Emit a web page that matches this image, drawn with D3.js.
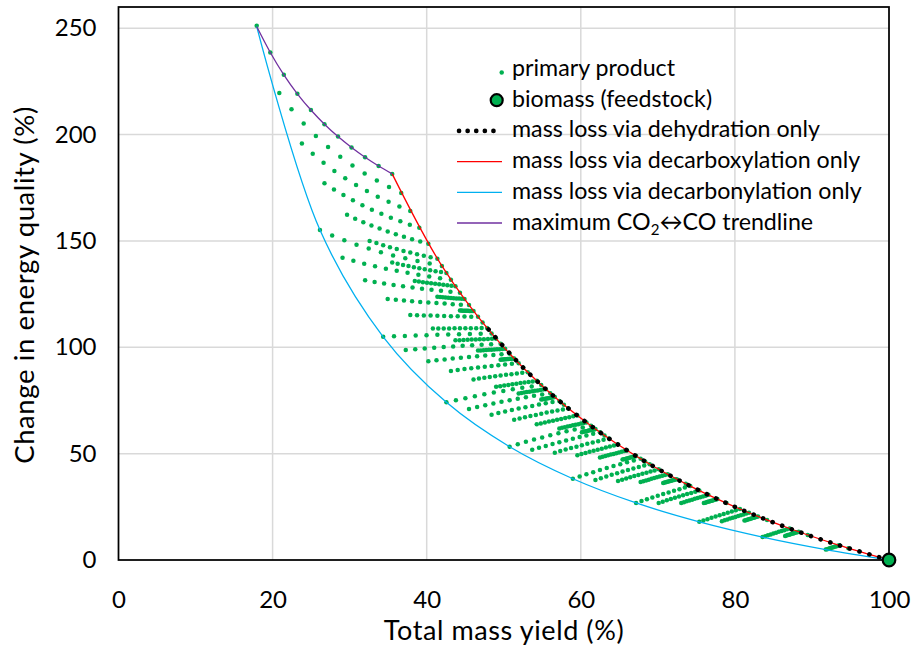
<!DOCTYPE html>
<html><head><meta charset="utf-8">
<script src="https://cdn.jsdelivr.net/npm/d3@7"></script>
<style>
body{margin:0;background:#fff;}
svg text{font-family:Lato,"Open Sans","DejaVu Sans",sans-serif;fill:#000;}
</style></head><body>
<svg id="chart" width="915" height="649"></svg>
<script>
// ---------- data ----------
const xTicks = [0, 20, 40, 60, 80, 100];
const yTicks = [0, 50, 100, 150, 200, 250];

// Simulated primary products: fraction of feedstock oxygen removed as water,
// fraction removed as CO2 + CO, and the CO2 share of that carbon-oxide part
const waterRemoved = [0, 0.1, 0.2, 0.3, 0.4, 0.5, 0.6, 0.7, 0.8, 0.9, 1.0];
const carbonOxideRemoved = [0, 0.1, 0.2, 0.3, 0.4, 0.5, 0.6, 0.7, 0.8, 0.9, 1.0];
const co2Share = [0, 0.1, 0.2, 0.3, 0.4, 0.5, 0.6, 0.7, 0.8, 0.9, 1.0];
// % of feedstock mass lost when all its oxygen leaves by one route (end points of the three lines)
const massLossAllO = {water: 52.75, co2: 64.48, co: 82.06};
// % of feedstock energy lost when all oxygen leaves as CO
const energyLossAllOasCO = 37.0;

// line series: [mass yield %, change in energy quality %]
const dehydrationLine = [[100,0],[94.73,5.57],[89.45,11.79],[84.18,18.80],[78.90,26.74],[73.63,35.82],[68.35,46.31],[63.08,58.54],[57.80,73.01],[52.53,90.39],[47.25,111.64]];
const decarboxylationLine = [[100,0],[93.55,6.89],[87.10,14.81],[80.66,23.98],[74.21,34.76],[67.76,47.58],[61.31,63.10],[54.86,82.27],[48.42,106.54],[41.97,138.28],[35.52,181.53]];
const decarbonylationLine = [[100,0],[91.79,4.91],[83.59,10.78],[75.38,17.93],[67.18,26.83],[58.97,38.21],[50.76,53.26],[42.56,74.12],[34.35,104.94],[26.15,155.11],[17.94,250.8]];
const maxTrendline = [[17.94,250.8],[19.70,238.61],[21.46,228.11],[23.21,219.20],[24.97,211.55],[26.73,204.90],[28.49,199.07],[30.25,193.92],[32.00,189.34],[33.76,185.23],[35.52,181.53]];
const biomass = [[100, 0]];

const legendLabels = ["primary product", "biomass (feedstock)", "mass loss via dehydration only",
  "mass loss via decarboxylation only", "mass loss via decarbonylation only", "maximum CO2\u2194CO trendline"];

// ---------- primary products (mass yield, energy quality) from their composition ----------
const products = [];
waterRemoved.forEach(w => carbonOxideRemoved.forEach(r => {
  if (w + r > 1.0001 || (w === 0 && r === 0)) return;
  (r === 0 ? [0] : co2Share).forEach(sd => {
    const d = r * sd, c = r * (1 - sd);
    const massYield = 100 - (w * massLossAllO.water + d * massLossAllO.co2 + c * massLossAllO.co);
    const energy = 100 - c * energyLossAllOasCO;
    products.push([massYield, 100 * energy / massYield - 100]);
  });
}));

// ---------- chart ----------
const GREEN = "#00B050", RED = "#FF0000", BLUE = "#00B0F0", PURPLE = "#7030A0";
const svg = d3.select("#chart");
const x = d3.scaleLinear().domain([0, 100]).range([118.5, 889]);
const y = d3.scaleLinear().domain([0, 260]).range([560, 7]);

// gridlines
svg.append("g").selectAll("line").data(xTicks.filter(d => d > 0 && d < 100)).join("line")
  .attr("x1", d => x(d)).attr("x2", d => x(d)).attr("y1", y(0)).attr("y2", y(260))
  .attr("stroke", "#d9d9d9").attr("stroke-width", 1.5);
svg.append("g").selectAll("line").data(yTicks.filter(d => d > 0)).join("line")
  .attr("y1", d => y(d)).attr("y2", d => y(d)).attr("x1", x(0)).attr("x2", x(100))
  .attr("stroke", "#d9d9d9").attr("stroke-width", 1.5);

// axes (labels)
const fontTick = 24;
const gx = svg.append("g").attr("transform", `translate(0,${y(0)})`)
  .call(d3.axisBottom(x).tickValues(xTicks).tickSize(0).tickPadding(31));
const gy = svg.append("g").attr("transform", `translate(${x(0)},0)`)
  .call(d3.axisLeft(y).tickValues(yTicks).tickSize(0).tickPadding(22));
[gx, gy].forEach(g => {
  g.select(".domain").remove();
  g.attr("font-family", null).attr("font-size", null);
  g.selectAll("text").style("font-size", fontTick + "px").attr("fill", "#000");
});

// primary products
svg.append("g").selectAll("circle").data(products).join("circle")
  .attr("cx", d => x(d[0])).attr("cy", d => y(d[1])).attr("r", 2.25).attr("fill", GREEN);

const curve = d3.curveCatmullRom.alpha(0.5);
const line = d3.line().x(d => x(d[0])).y(d => y(d[1])).curve(curve);
svg.append("path").datum(decarboxylationLine).attr("d", line).attr("fill", "none").attr("stroke", RED).attr("stroke-width", 1.3);
svg.append("path").datum(decarbonylationLine).attr("d", line).attr("fill", "none").attr("stroke", BLUE).attr("stroke-width", 1.3);
svg.append("path").datum(maxTrendline).attr("d", line).attr("fill", "none").attr("stroke", PURPLE).attr("stroke-width", 1.3);
svg.append("path").datum(dehydrationLine).attr("d", line).attr("fill", "none").attr("stroke", "#000")
  .attr("stroke-width", 4.6).attr("stroke-linecap", "round").attr("stroke-dasharray", "0.1,10.1");

// frame
svg.append("rect").attr("x", x(0)).attr("y", y(260)).attr("width", x(100) - x(0)).attr("height", y(0) - y(260))
  .attr("fill", "none").attr("stroke", "#000").attr("stroke-width", 1.75);

// biomass
svg.append("g").selectAll("circle").data(biomass).join("circle")
  .attr("cx", d => x(d[0])).attr("cy", d => y(d[1])).attr("r", 6.3)
  .attr("fill", GREEN).attr("stroke", "#000").attr("stroke-width", 2.2);

// axis titles
svg.append("text").attr("x", 504).attr("y", 640).attr("text-anchor", "middle")
  .style("font-size", "27px").style("letter-spacing", "0.6px").text("Total mass yield (%)");
svg.append("text").attr("transform", "translate(34,285) rotate(-90)").attr("text-anchor", "middle")
  .style("font-size", "27.5px").style("letter-spacing", "0.6px").text("Change in energy quality (%)");

// legend
const lg = svg.append("g");
const lx = 512, ly0 = 76, lstep = 30.7, fsL = 21;
const rows = legendLabels.map((t, i) => ({t, i, yb: ly0 + i * lstep, yc: ly0 + i * lstep - 6.5}));
rows.forEach(r => {
  const tx = lg.append("text").attr("x", lx).attr("y", r.yb).style("font-size", fsL + "px");
  if (r.i === 5) {
    tx.append("tspan").text("maximum CO");
    tx.append("tspan").attr("dy", 5).style("font-size", (fsL * 0.65) + "px").text("2");
    tx.append("tspan").attr("dy", -5).text("\u2194CO trendline");
  } else tx.text(r.t);
});
const longest = lg.selectAll("text").filter((d, i) => i === 4);
const wL = longest.node().getComputedTextLength();
const fsFit = fsL * 350 / wL;
lg.selectAll("text").each(function(d, i) {
  const t = d3.select(this);
  t.style("font-size", fsFit + "px");
  if (i === 5) t.selectAll("tspan").filter((dd, j) => j === 1).style("font-size", (fsFit * 0.65) + "px");
});
lg.append("circle").attr("cx", 501.7).attr("cy", rows[0].yc + 3).attr("r", 2.25).attr("fill", GREEN);
lg.append("circle").attr("cx", 496.7).attr("cy", rows[1].yc).attr("r", 6).attr("fill", GREEN).attr("stroke", "#000").attr("stroke-width", 2.2);
lg.append("line").attr("x1", 459).attr("x2", 502).attr("y1", rows[2].yc).attr("y2", rows[2].yc)
  .attr("stroke", "#000").attr("stroke-width", 4.6).attr("stroke-linecap", "round").attr("stroke-dasharray", "0.1,8.5");
[[3, RED], [4, BLUE], [5, PURPLE]].forEach(([i, col]) => {
  lg.append("line").attr("x1", 457).attr("x2", 502).attr("y1", rows[i].yc).attr("y2", rows[i].yc)
    .attr("stroke", col).attr("stroke-width", 1.3);
});
</script>
</body></html>
